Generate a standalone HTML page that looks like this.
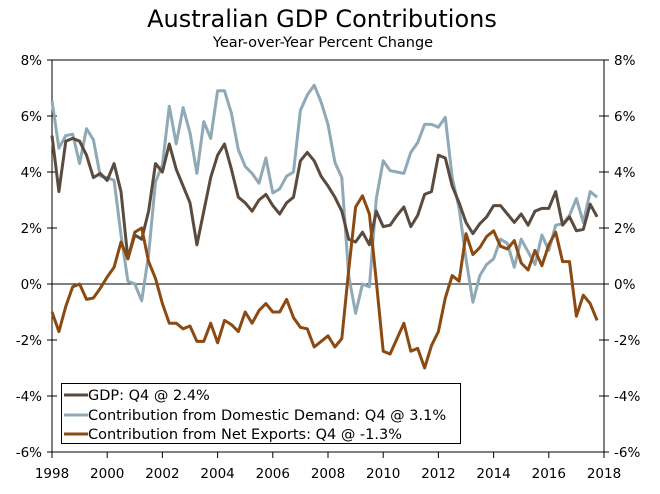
<!DOCTYPE html>
<html><head><meta charset="utf-8"><style>
body{margin:0;background:#fff;}
svg text{font-family:"DejaVu Sans","Liberation Sans",sans-serif;fill:#000;}
</style></head><body>
<svg id="chart" width="660" height="489" xmlns="http://www.w3.org/2000/svg">
<text x="322" y="27" font-size="24" text-anchor="middle">Australian GDP Contributions</text>
<text x="323" y="47" font-size="14.5" text-anchor="middle">Year-over-Year Percent Change</text>
<g id="axes"></g>
<g id="series"></g>
<g>
<rect x="61.5" y="383.5" width="399" height="60" fill="#fff" stroke="#000" stroke-width="1"/>
<line x1="64" y1="395" x2="88" y2="395" stroke="#5b4b3f" stroke-width="3"/>
<text x="88" y="400" font-size="14.5">GDP: Q4 @ 2.4%</text>
<line x1="64" y1="415" x2="88" y2="415" stroke="#8fa9b6" stroke-width="3"/>
<text x="88" y="420" font-size="14.5">Contribution from Domestic Demand: Q4 @ 3.1%</text>
<line x1="64" y1="434" x2="88" y2="434" stroke="#8b4a12" stroke-width="3"/>
<text x="88" y="439" font-size="14.5">Contribution from Net Exports: Q4 @ -1.3%</text>
</g>
</svg>
<script>
const gdp=[5.3,3.3,5.1,5.2,5.1,4.6,3.8,3.95,3.7,4.3,3.3,0.9,1.75,1.6,2.6,4.3,4.0,5.0,4.1,3.5,2.9,1.4,2.6,3.8,4.6,5.0,4.1,3.1,2.9,2.6,3.0,3.2,2.8,2.5,2.9,3.1,4.4,4.7,4.4,3.85,3.5,3.1,2.6,1.6,1.5,1.85,1.4,2.6,2.05,2.1,2.45,2.75,2.05,2.45,3.2,3.3,4.6,4.5,3.5,2.9,2.2,1.8,2.15,2.4,2.8,2.8,2.5,2.2,2.5,2.1,2.6,2.7,2.7,3.3,2.1,2.4,1.9,1.95,2.85,2.4];
const domestic=[6.55,4.85,5.3,5.35,4.3,5.55,5.15,3.85,3.8,3.7,1.75,0.1,0.0,-0.6,1.05,3.65,4.25,6.35,5.0,6.3,5.4,3.95,5.8,5.2,6.9,6.9,6.1,4.8,4.2,3.95,3.6,4.5,3.25,3.4,3.85,4.0,6.2,6.75,7.1,6.5,5.7,4.35,3.8,0.3,-1.05,0.0,-0.1,3.05,4.4,4.05,4.0,3.95,4.7,5.05,5.7,5.7,5.6,5.95,3.8,2.7,0.9,-0.65,0.3,0.7,0.9,1.6,1.45,0.6,1.6,1.15,0.7,1.75,1.2,2.1,2.15,2.45,3.05,2.2,3.3,3.1];
const netExports=[-1.0,-1.7,-0.8,-0.1,0.0,-0.55,-0.5,-0.15,0.25,0.6,1.5,0.9,1.85,2.0,0.8,0.2,-0.7,-1.4,-1.4,-1.6,-1.5,-2.05,-2.05,-1.4,-2.1,-1.3,-1.45,-1.7,-1.0,-1.4,-0.95,-0.7,-1.0,-1.0,-0.55,-1.2,-1.55,-1.6,-2.25,-2.05,-1.85,-2.25,-1.95,0.5,2.75,3.15,2.5,0.1,-2.4,-2.5,-1.95,-1.4,-2.4,-2.3,-3.0,-2.2,-1.7,-0.5,0.3,0.1,1.8,1.05,1.3,1.7,1.9,1.35,1.25,1.55,0.75,0.5,1.2,0.65,1.4,1.85,0.8,0.8,-1.15,-0.4,-0.7,-1.3];
const yTicks=[8,6,4,2,0,-2,-4,-6];
const xTicks=[1998,2000,2002,2004,2006,2008,2010,2012,2014,2016,2018];
const startYear=1998;

const NS="http://www.w3.org/2000/svg";
const L=52,R=604,T=60,B=452;
const xs=t=>L+(t-1998)*(R-L)/20;
const ys=v=>T+(8-v)*(B-T)/14;
function mk(tag,attrs,parent){const e=document.createElementNS(NS,tag);for(const k in attrs)e.setAttribute(k,attrs[k]);parent.appendChild(e);return e;}
const ax=document.getElementById('axes');
mk('line',{x1:L,y1:T,x2:R,y2:T,stroke:'#000','stroke-width':1},ax);
const zl=mk('line',{x1:L,y1:ys(0),x2:R,y2:ys(0),stroke:'#000','stroke-width':1},ax);


const la=mk('line',{x1:L,y1:T,x2:L,y2:B+6,stroke:'#000','stroke-width':1},ax);


const ra=mk('line',{x1:R,y1:T,x2:R,y2:B+6,stroke:'#000','stroke-width':1},ax);


const xa=mk('line',{x1:L-4,y1:B,x2:R+4,y2:B,stroke:'#000','stroke-width':1},ax);


yTicks.forEach(v=>{
  const y=ys(v);
  mk('line',{x1:L-5,y1:y,x2:L+5,y2:y,stroke:'#000'},ax);
  mk('line',{x1:R-5,y1:y,x2:R+5,y2:y,stroke:'#000'},ax);
  const t1=mk('text',{x:L-10,y:y+5,'font-size':13.5,'text-anchor':'end'},ax);t1.textContent=v+'%';
  
  
  const t2=mk('text',{x:R+10,y:y+5,'font-size':13.5,'text-anchor':'start'},ax);t2.textContent=v+'%';
  
  
});
xTicks.forEach(yr=>{
  const x=xs(yr);
  mk('line',{x1:x,y1:B,x2:x,y2:B+6,stroke:'#000'},ax);
  const t=mk('text',{x:x,y:B+26,'font-size':13.5,'text-anchor':'middle'},ax);t.textContent=yr;
  
  
});
const sg=document.getElementById('series');
function line(arr,color,name){
  const pts=arr.map((v,i)=>xs(startYear+i/4).toFixed(1)+','+ys(v).toFixed(1)).join(' ');
  const p=mk('polyline',{points:pts,fill:'none',stroke:color,'stroke-width':3,'stroke-linejoin':'round'},sg);
  
  
}
line(domestic,'#8fa9b6','domestic-demand-line');
line(gdp,'#5b4b3f','gdp-line');
line(netExports,'#8b4a12','net-exports-line');
</script>
</body></html>
